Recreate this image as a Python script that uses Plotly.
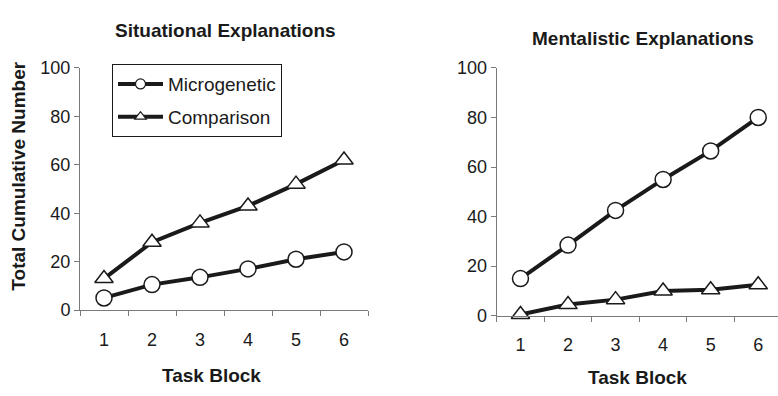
import plotly.graph_objects as go

# Task blocks (x categories)
blocks = ["1", "2", "3", "4", "5", "6"]

# Total cumulative number of explanations per block
situational_micro = [5, 10.5, 13.5, 17, 21, 24]
situational_comp = [13, 28, 36, 43, 52, 62]
mentalistic_micro = [15, 28.5, 42.5, 55, 66.5, 80]
mentalistic_comp = [0.5, 4.5, 6.5, 10, 10.5, 12.5]

y_ticks = [0, 20, 40, 60, 80, 100]

W, H = 778, 396
INK = "#1a1a1a"
AXIS = "#7a7a7a"
FONT = "Liberation Sans, Arial, Helvetica, sans-serif"


def px_x(v):
    return v / W


def px_y(v):
    return 1 - v / H


fig = go.Figure()

circle = dict(symbol="circle", size=16, color="white", line=dict(color=INK, width=1.5))
triangle = dict(symbol="triangle-up", size=16, color="white", line=dict(color=INK, width=1.5))
line_style = dict(color=INK, width=4)

fig.add_trace(go.Scatter(x=blocks, y=situational_micro, mode="lines+markers",
                         line=line_style, marker=circle, showlegend=False,
                         cliponaxis=False, xaxis="x", yaxis="y"))
fig.add_trace(go.Scatter(x=blocks, y=situational_comp, mode="lines+markers",
                         line=line_style, marker=triangle, showlegend=False,
                         cliponaxis=False, xaxis="x", yaxis="y"))
fig.add_trace(go.Scatter(x=blocks, y=mentalistic_micro, mode="lines+markers",
                         line=line_style, marker=circle, showlegend=False,
                         cliponaxis=False, xaxis="x2", yaxis="y2"))
fig.add_trace(go.Scatter(x=blocks, y=mentalistic_comp, mode="lines+markers",
                         line=line_style, marker=triangle, showlegend=False,
                         cliponaxis=False, xaxis="x2", yaxis="y2"))

# Legend entries with smaller symbols
for name, sym, grp in [("Microgenetic", "circle", "a"), ("Comparison", "triangle-up", "b")]:
    fig.add_trace(go.Scatter(x=[None], y=[None], mode="lines+markers", name=name,
                             legendgroup=grp,
                             line=dict(color=INK, width=4),
                             marker=dict(symbol=sym, size=10, color="white",
                                         line=dict(color=INK, width=1.2)),
                             xaxis="x", yaxis="y"))

xaxis_common = dict(
    type="category", tickson="boundaries", ticks="outside", ticklen=5,
    tickcolor=AXIS, showline=True, linecolor=AXIS, linewidth=1,
    showgrid=False, zeroline=False, tickfont=dict(size=18, color=INK, family=FONT),
    ticklabelstandoff=13,
)
yaxis_common = dict(
    tickvals=y_ticks, ticks="outside", ticklen=5, tickcolor=AXIS,
    showline=True, linecolor=AXIS, linewidth=1, showgrid=False, zeroline=False,
    tickfont=dict(size=18, color=INK, family=FONT), range=[0, 100],
    ticklabelstandoff=0,
)

fig.update_layout(
    width=W, height=H,
    margin=dict(l=0, r=0, t=0, b=0),
    paper_bgcolor="white", plot_bgcolor="white",
    font=dict(family=FONT, color=INK),
    xaxis=dict(domain=[px_x(80), px_x(368)], range=[-0.5, 5.5], anchor="y", **xaxis_common),
    yaxis=dict(domain=[px_y(316), px_y(61)], anchor="x", **yaxis_common),
    xaxis2=dict(domain=[px_x(496.7), 1.0], range=[-0.5, 5.416], anchor="y2", **xaxis_common),
    yaxis2=dict(domain=[px_y(322), px_y(61)], anchor="x2", **yaxis_common),
    legend=dict(
        x=px_x(112), y=px_y(57), xanchor="left", yanchor="top",
        xref="paper", yref="paper",
        bordercolor=INK, borderwidth=1, bgcolor="white",
        font=dict(size=19, color=INK, family=FONT),
        itemwidth=45, tracegroupgap=5,
    ),
)

bold = dict(family=FONT, size=19, color=INK)
annotations = [
    dict(text="<b>Situational Explanations</b>", x=px_x(225), y=px_y(22)),
    dict(text="<b>Mentalistic Explanations</b>", x=px_x(643), y=px_y(30)),
    dict(text="<b>Task Block</b>", x=px_x(212), y=px_y(385)),
    dict(text="<b>Task Block</b>", x=px_x(637), y=px_y(387)),
    dict(text="<b>Total Cumulative Number</b>", x=px_x(19), y=px_y(175.5), textangle=-90),
]
for a in annotations:
    fig.add_annotation(xref="paper", yref="paper", xanchor="center", yanchor="middle",
                       showarrow=False, font=bold, **a)

fig.write_html("out.html")
